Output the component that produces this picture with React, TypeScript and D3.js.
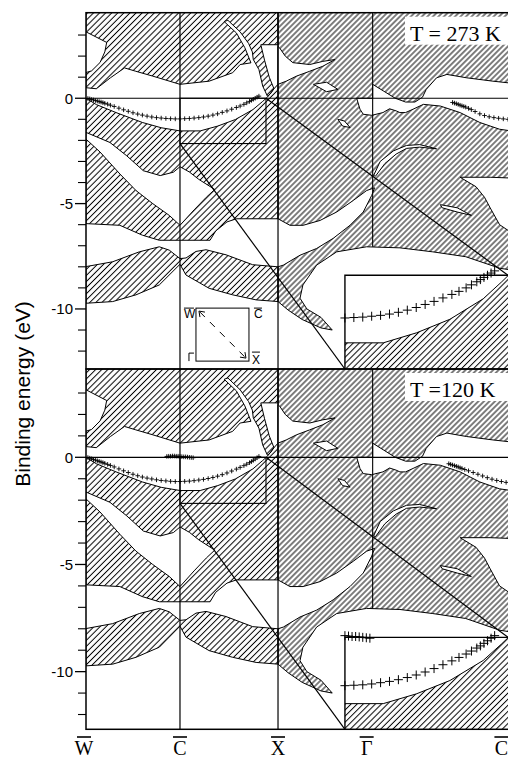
import React from "react";
import * as d3 from "d3";

type Pt = [number, number];

// symmetry points along the surface path (k in arbitrary path units)
const kPoints = [0, 1.0, 2.043, 3.05, 4.42];
const kNames = ["W", "C", "X", "Γ", "C"];
const majorE = [0, -5, -10];
const minorE = [3, 2, 1, -1, -2, -3, -4, -6, -7, -8, -9, -11, -12];
const temps = ["T = 273 K", "T =120 K"];

// zoom window (rectangle) and where its magnified copy sits
const zoomK = [1.0, 1.915];
const zoomE = [0, -2.15];
const insetLeftK = 2.755;
const insetTopE = -8.4;
const gammaLineEnd = -7.05;

// projected bulk bands (hatched)
const bandTop: Pt[] = [
  [0, 4.3], [2.043, 4.3], [2.043, 2.54], [1.86, 2.54], [1.9, 1.8], [1.95, 1.0], [2.0, 0.45],
  [1.96, 0.2], [1.93, 0.1], [1.88, 0.58], [1.84, 1.36], [1.78, 1.84], [1.77, 2.2], [1.73, 2.6],
  [1.64, 3.15], [1.51, 3.7], [1.47, 3.64], [1.6, 3.1], [1.69, 2.4], [1.755, 1.68], [1.64, 1.6],
  [1.56, 1.21], [1.31, 0.81], [1.0, 0.66], [0.71, 1.05], [0.53, 1.28], [0.41, 1.44], [0.26, 0.97],
  [0.11, 0.45], [0, 0.5], [0, 1.22], [0.06, 1.3], [0.15, 1.7], [0.2, 2.2], [0.22, 2.65], [0, 3.15],
];
const midUpper: Pt[] = [
  [0, 0], [0.11, -0.3], [0.32, -0.68], [0.6, -1.15], [0.8, -1.4], [1.0, -1.55], [1.215, -1.55],
  [1.402, -1.32], [1.589, -1.01], [1.776, -0.54], [1.88, -0.15], [1.93, 0.05], [2.0, 0.45], [2.043, 0.66],
];
const midLower: Pt[] = [
  [2.043, -5.72], [1.6, -5.72], [1.5, -5.87], [1.38, -6.3], [1.32, -6.74], [0.78, -6.74],
  [0.6, -6.5], [0.36, -6.03], [0, -5.95],
];
const bandLow: Pt[] = [
  [0, -7.99], [0.284, -7.76], [0.567, -7.29], [0.78, -7.05], [0.886, -7.21], [1.0, -7.61],
  [1.064, -7.58], [1.17, -7.27], [1.277, -7.19], [1.49, -7.43], [1.773, -7.9], [2.043, -8.0],
  [2.043, -9.65], [1.81, -9.57], [1.56, -9.33], [1.31, -9.02], [1.064, -8.39], [1.0, -7.88],
  [0.78, -8.86], [0.532, -9.33], [0.284, -9.65], [0, -9.73],
];
const bandRight: Pt[] = [
  [2.043, 4.3], [4.6, 4.3], [4.6, -8.2], [4.404, -8.07], [4.04, -7.52], [3.69, -7.29], [3.34, -7.1],
  [2.985, -7.05], [2.667, -7.29], [2.454, -7.92], [2.308, -8.86], [2.277, -9.49], [2.35, -10.0],
  [2.5, -10.4], [2.62, -11.0], [2.5, -10.9], [2.3, -10.5], [2.15, -10.05], [2.043, -9.65],
  [2.043, -8.0], [2.1, -7.92], [2.277, -7.45], [2.454, -7.13], [2.63, -6.65], [2.809, -6.03],
  [2.95, -5.4], [3.04, -4.61], [3.07, -4.25], [2.986, -4.38], [2.844, -4.85], [2.667, -5.4],
  [2.49, -5.8], [2.31, -6.03], [2.17, -6.03], [2.043, -5.72],
];

// gaps cut out of the bands
const wedgeGap: Pt[] = [
  [0, -1.62], [0.255, -2.1], [0.433, -2.73], [0.61, -3.44], [0.79, -3.67], [0.93, -3.51], [1.0, -3.25],
  [1.1, -3.5], [1.2, -3.85], [1.37, -4.33], [1.28, -4.7], [1.15, -5.3], [1.0, -6.03], [0.886, -5.56],
  [0.71, -5.0], [0.532, -4.38], [0.362, -3.6], [0.149, -2.55], [0, -1.94],
];
const pocketX: Pt[] = [
  [2.043, 2.46], [2.06, 2.39], [2.12, 2.0], [2.2, 1.69], [2.38, 1.6], [2.52, 1.75], [2.65, 1.84],
  [2.52, 1.52], [2.38, 1.28], [2.24, 1.05], [2.13, 0.81], [2.043, 0.66],
];
const gapGamma: Pt[] = [
  [2.88, 0.0], [3.05, 0.0], [3.05, 0.66], [3.17, 0.33], [3.29, 0.0], [3.4, -0.18], [3.5, -0.18],
  [3.58, 0.05], [3.62, 0.42], [3.73, 0.97], [3.84, 1.13], [4.05, 0.97], [4.33, 0.81], [4.6, 0.68],
  [4.6, -1.6], [4.4, -1.47], [4.19, -1.15], [3.98, -0.68], [3.77, -0.37], [3.59, -0.29], [3.48, -0.52],
  [3.4, -0.68], [3.34, -0.68], [3.3, -0.6], [3.23, -0.5], [3.16, -0.68], [3.04, -0.81], [2.95, -0.76],
  [2.915, -0.52],
];
const gapEdge: Pt[] = [
  [3.98, -3.75], [4.15, -4.2], [4.24, -4.7], [4.3, -5.2], [4.4, -6.0], [4.6, -6.6], [4.6, -3.8], [4.3, -3.75],
];
const lenses: Pt[][] = [
  [[2.42, 0.66], [2.56, 0.76], [2.68, 0.42], [2.56, 0.31]],
  [[2.68, -1.0], [2.75, -1.08], [2.81, -1.39], [2.73, -1.32]],
  [[3.06, -3.67], [3.13, -3.0], [3.27, -2.5], [3.41, -2.24], [3.55, -2.2], [3.73, -2.4],
   [3.55, -2.32], [3.41, -2.38], [3.3, -2.65], [3.18, -3.1], [3.08, -3.7]],
  [[3.77, -5.05], [3.95, -5.2], [4.1, -5.56], [3.95, -5.4], [3.79, -5.2]],
];

// ARPES peak positions (crosses)
const crossTopMain: Pt[] = [
  [0.02, -0.01], [0.04, -0.03], [0.06, -0.06], [0.08, -0.08], [0.1, -0.11], [0.12, -0.13], [0.14, -0.16],
  [0.16, -0.18], [0.18, -0.21], [0.2, -0.24], [0.23, -0.28], [0.26, -0.33], [0.3, -0.39], [0.35, -0.47],
  [0.4, -0.55], [0.45, -0.62], [0.5, -0.69], [0.55, -0.75], [0.6, -0.8], [0.65, -0.85], [0.7, -0.89],
  [0.75, -0.92], [0.8, -0.94], [0.85, -0.96], [0.9, -0.97], [0.95, -0.98], [1.0, -0.98], [1.05, -0.97],
  [1.1, -0.96], [1.15, -0.94], [1.2, -0.92], [1.25, -0.89], [1.3, -0.85], [1.35, -0.8], [1.4, -0.74],
  [1.45, -0.67], [1.5, -0.6], [1.55, -0.52], [1.6, -0.44], [1.64, -0.37], [1.68, -0.29], [1.71, -0.22],
  [1.74, -0.15], [1.76, -0.1], [1.78, -0.05], [1.8, 0.0], [1.82, 0.05], [1.84, 0.1],
];
const crossTopRight: Pt[] = [
  [3.9, -0.2], [3.92, -0.23], [3.94, -0.26], [3.96, -0.29], [3.98, -0.33], [4.0, -0.36], [4.02, -0.39],
  [4.04, -0.42], [4.07, -0.48], [4.1, -0.54], [4.14, -0.63], [4.19, -0.74], [4.24, -0.82], [4.29, -0.88],
  [4.34, -0.92], [4.39, -0.95], [4.44, -0.98], [4.49, -1.0],
];
const crossBotMain: Pt[] = [
  [0.02, -0.01], [0.04, -0.04], [0.06, -0.07], [0.08, -0.1], [0.1, -0.13], [0.12, -0.16], [0.14, -0.19],
  [0.16, -0.22], [0.18, -0.25], [0.2, -0.28], [0.23, -0.33], [0.26, -0.38], [0.3, -0.45], [0.35, -0.54],
  [0.4, -0.63], [0.45, -0.71], [0.5, -0.79], [0.55, -0.86], [0.6, -0.92], [0.65, -0.97], [0.7, -1.01],
  [0.75, -1.05], [0.8, -1.08], [0.85, -1.1], [0.9, -1.12], [0.95, -1.13], [1.0, -1.13], [1.05, -1.12],
  [1.1, -1.11], [1.15, -1.09], [1.2, -1.06], [1.25, -1.03], [1.3, -0.99], [1.35, -0.94], [1.4, -0.88],
  [1.45, -0.81], [1.5, -0.73], [1.55, -0.64], [1.6, -0.55], [1.64, -0.47], [1.68, -0.39], [1.71, -0.32],
  [1.74, -0.25], [1.76, -0.2], [1.78, -0.14], [1.8, -0.08], [1.82, -0.02], [1.84, 0.04],
];
const crossBotC: Pt[] = [
  [0.86, 0.04], [0.88, 0.05], [0.9, 0.05], [0.92, 0.06], [0.94, 0.06], [0.96, 0.05], [0.98, 0.05],
  [1.0, 0.04], [1.02, 0.03], [1.04, 0.02], [1.06, 0.02], [1.08, 0.01], [1.1, 0.0], [1.12, -0.01], [1.14, -0.02],
];
const crossBotRight: Pt[] = [
  [3.86, -0.3], [3.88, -0.33], [3.9, -0.36], [3.92, -0.39], [3.94, -0.42], [3.96, -0.45], [3.98, -0.49],
  [4.0, -0.52], [4.03, -0.57], [4.07, -0.63], [4.12, -0.71], [4.17, -0.79], [4.22, -0.87], [4.27, -0.95],
  [4.32, -1.02], [4.37, -1.08], [4.42, -1.13], [4.47, -1.17],
];

// small surface Brillouin zone sketch
const bzCorner: Pt = [1.17, -9.96];

const W = 508;
const H = 758;
const LEFT = 86;
const sans = "'Liberation Sans', Arial, sans-serif";
const serif = "'Liberation Serif', 'Times New Roman', serif";

const x = d3.scaleLinear().domain([0, 4.49]).range([LEFT, W]);

const poly = (pts: Pt[], sx: (v: number) => number, sy: (v: number) => number) =>
  (d3.line<Pt>().x((d) => sx(d[0])).y((d) => sy(d[1]))(pts) ?? "") + "Z";

const crossPath = (pts: Pt[], sx: (v: number) => number, sy: (v: number) => number, s: number) =>
  pts.map(([k, e]) => `M${sx(k) - s},${sy(e)}h${2 * s}M${sx(k)},${sy(e) - s}v${2 * s}`).join("");

interface PanelProps {
  id: string;
  y: d3.ScaleLinear<number, number>;
  temp: string;
  crosses: Pt[][];
  showBZ?: boolean;
}

const Panel: React.FC<PanelProps> = ({ id, y, temp, crosses, showBZ }) => {
  const [yb, yt] = y.range();
  const ix = d3.scaleLinear().domain(zoomK).range([x(insetLeftK), W]);
  const iy = d3.scaleLinear().domain(zoomE).range([y(insetTopE), yb]);
  const inZoom = (pts: Pt[]) => pts.filter((d) => d[0] >= zoomK[0] && d[0] <= 1.9);
  const insetHatch: Pt[] = [...midUpper.filter((d) => d[0] >= 0.9), [2.043, -4], [0.9, -4]];
  const holes = [wedgeGap, pocketX, gapGamma, gapEdge, ...lenses];
  const s = 53;
  const bx = x(bzCorner[0]);
  const by = y(bzCorner[1]);

  return (
    <g>
      <defs>
        <clipPath id={`c${id}`}>
          <rect x={LEFT} y={yt} width={W - LEFT + 2} height={yb - yt} />
        </clipPath>
        <clipPath id={`i${id}`}>
          <rect x={ix(zoomK[0])} y={iy(0)} width={W - ix(zoomK[0]) + 2} height={yb - iy(0)} />
        </clipPath>
      </defs>
      <g clipPath={`url(#c${id})`}>
        {[bandTop, [...midUpper, ...midLower], bandLow].map((p, i) => (
          <path key={i} d={poly(p, x, y)} fill="url(#hL)" stroke="#000" strokeWidth={1} />
        ))}
        <path d={poly(bandRight, x, y)} fill="url(#hR)" stroke="#000" strokeWidth={1} />
        {holes.map((p, i) => (
          <path key={i} d={poly(p, x, y)} fill="#fff" stroke="#000" strokeWidth={1} />
        ))}
        {[kPoints[1], kPoints[2]].map((k, i) => (
          <line key={i} x1={x(k)} x2={x(k)} y1={yt} y2={yb} stroke="#000" strokeWidth={1.2} />
        ))}
        <line x1={x(kPoints[3])} x2={x(kPoints[3])} y1={yt} y2={y(gammaLineEnd)} stroke="#000" strokeWidth={1.1} />
        <line x1={LEFT} x2={W} y1={y(0)} y2={y(0)} stroke="#000" strokeWidth={1.2} />
        <rect x={x(zoomK[0])} y={y(zoomE[0])} width={x(zoomK[1]) - x(zoomK[0])} height={y(zoomE[1]) - y(zoomE[0])}
          fill="none" stroke="#000" strokeWidth={1.1} />
        <line x1={x(zoomK[0])} y1={y(zoomE[1])} x2={ix(zoomK[0])} y2={iy(zoomE[1])} stroke="#000" strokeWidth={1.2} />
        <line x1={x(zoomK[1])} y1={y(zoomE[0])} x2={ix(zoomK[1])} y2={iy(zoomE[0])} stroke="#000" strokeWidth={1.2} />

        {/* magnified inset */}
        <rect x={ix(zoomK[0])} y={iy(0)} width={W - ix(zoomK[0]) + 2} height={yb - iy(0)} fill="#fff" />
        <g clipPath={`url(#i${id})`}>
          <path d={poly(insetHatch, ix, iy)} fill="url(#hL)" stroke="#000" strokeWidth={1} />
        </g>
        <path d={`M${W + 2},${iy(0)}H${ix(zoomK[0])}V${yb}`} fill="none" stroke="#000" strokeWidth={1.4} />
        {crosses.map((c, i) => (
          <path key={i} d={crossPath(inZoom(c), ix, iy, 4.5)} stroke="#000" strokeWidth={1} fill="none" />
        ))}

        {crosses.map((c, i) => (
          <path key={i} d={crossPath(c, x, y, 2.3)} stroke="#000" strokeWidth={0.9} fill="none" />
        ))}

        {showBZ && (
          <g fontFamily={sans} fontSize={12}>
            <rect x={bx} y={by} width={s} height={s} fill="#fff" stroke="#000" strokeWidth={1} />
            <line x1={bx + 4} y1={by + 4} x2={bx + s - 4} y2={by + s - 4} stroke="#000" strokeDasharray="7,7" strokeWidth={1} />
            <path d={`M${bx + 3},${by + 3}l6,1M${bx + 3},${by + 3}l1,6`} stroke="#000" fill="none" />
            <path d={`M${bx + s - 3},${by + s - 3}l-6,-1M${bx + s - 3},${by + s - 3}l-1,-6`} stroke="#000" fill="none" />
            <text x={bx - 12} y={by + 10}>W</text>
            <line x1={bx - 12} x2={bx - 2} y1={by} y2={by} stroke="#000" />
            <text x={bx + s + 5} y={by + 10}>C</text>
            <line x1={bx + s + 5} x2={bx + s + 13} y1={by} y2={by} stroke="#000" />
            <text x={bx + s + 3} y={by + s + 3}>X</text>
            <line x1={bx + s + 3} x2={bx + s + 11} y1={by + s - 9} y2={by + s - 9} stroke="#000" />
            <path d={`M${bx - 7},${by + s}v-8h5`} stroke="#000" fill="none" />
          </g>
        )}

        <rect x={W - 103} y={yt + 4} width={104} height={28} fill="#fff" />
        <text x={W - 98} y={yt + 28} fontFamily={serif} fontSize={22}>{temp}</text>
      </g>
      <rect x={LEFT} y={yt} width={W - LEFT + 4} height={yb - yt} fill="none" stroke="#000" strokeWidth={1.5} />
      {majorE.map((e) => (
        <g key={e}>
          <line x1={LEFT - 11} x2={LEFT} y1={y(e)} y2={y(e)} stroke="#000" strokeWidth={1.3} />
          <text x={LEFT - 13} y={y(e)} dy="0.36em" textAnchor="end" fontFamily={sans} fontSize={15}>{e}</text>
        </g>
      ))}
      {minorE.map((e) => (
        <line key={e} x1={LEFT - 8} x2={LEFT} y1={y(e)} y2={y(e)} stroke="#000" strokeWidth={1.1} />
      ))}
    </g>
  );
};

const App: React.FC = () => {
  const yTop = d3.scaleLinear().domain([-12.85, 4.06]).range([369, 12.7]);
  const yBot = d3.scaleLinear().domain([-12.69, 4.12]).range([729.3, 369]);
  const labelShift = (n: string, i: number) => (n === "Γ" ? -6 : i === 0 ? -2 : 0);

  return (
    <svg width={W} height={H} style={{ position: "absolute", left: 0, top: 0, background: "#fff" }}>
      <defs>
        <pattern id="hL" patternUnits="userSpaceOnUse" width={4.3} height={10} patternTransform="rotate(45)">
          <line x1={2.15} y1={0} x2={2.15} y2={10} stroke="#000" strokeWidth={1} />
        </pattern>
        <pattern id="hR" patternUnits="userSpaceOnUse" width={3.9} height={10} patternTransform="rotate(45)">
          <line x1={1.95} y1={0} x2={1.95} y2={10} stroke="#000" strokeWidth={1} />
        </pattern>
      </defs>
      <Panel id="t" y={yTop} temp={temps[0]} crosses={[crossTopMain, crossTopRight]} showBZ />
      <Panel id="b" y={yBot} temp={temps[1]} crosses={[crossBotMain, crossBotC, crossBotRight]} />
      {kNames.map((n, i) => {
        const cx = x(kPoints[i]) + labelShift(n, i);
        return (
          <g key={i}>
            <text x={cx} y={755} textAnchor="middle" fontFamily={serif} fontSize={20}>{n}</text>
            <line x1={cx - 7} x2={cx + 7} y1={737} y2={737} stroke="#000" strokeWidth={1.6} />
          </g>
        );
      })}
      <text transform="translate(30,394) rotate(-90)" textAnchor="middle" fontFamily={sans} fontSize={21}>
        Binding energy (eV)
      </text>
    </svg>
  );
};

export default App;
